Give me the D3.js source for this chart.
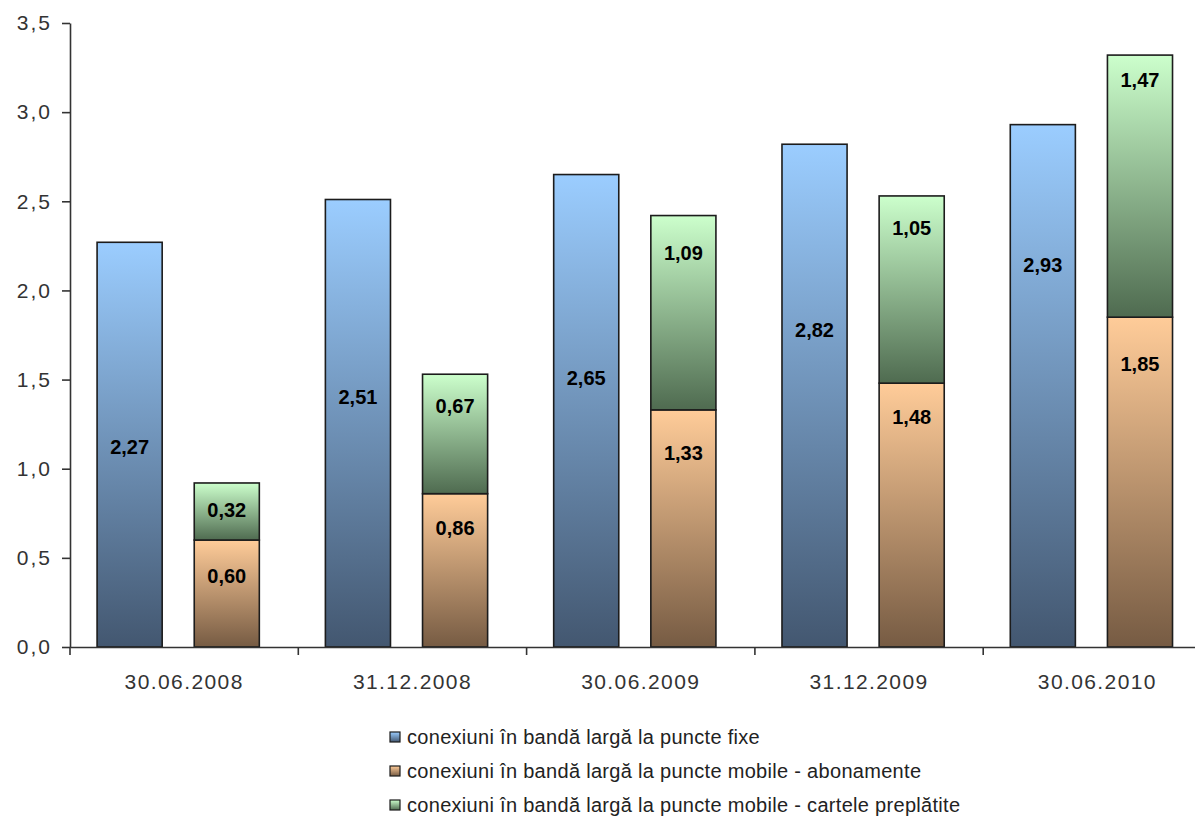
<!DOCTYPE html>
<html><head><meta charset="utf-8">
<script src="https://cdn.jsdelivr.net/npm/d3@7"></script>
<style>body{margin:0;background:#fff}svg{display:block}</style>
</head><body>
<svg id="chart" width="1195" height="820"></svg>
<script>
// ---- data ----
const categories = ["30.06.2008","31.12.2008","30.06.2009","31.12.2009","30.06.2010"];
const fixe = [2.27, 2.51, 2.65, 2.82, 2.93];
const mobileAbonamente = [0.60, 0.86, 1.33, 1.48, 1.85];
const mobileCartele = [0.32, 0.67, 1.09, 1.05, 1.47];
const seriesNames = [
  "conexiuni în bandă largă la puncte fixe",
  "conexiuni în bandă largă la puncte mobile - abonamente",
  "conexiuni în bandă largă la puncte mobile - cartele preplătite"
];
const yTicks = [0, 0.5, 1.0, 1.5, 2.0, 2.5, 3.0, 3.5];
const yTickLabels = ["0,0","0,5","1,0","1,5","2,0","2,5","3,0","3,5"];
// value-axis level at which each data label sits
const fixeLabelAt = [1.12, 1.40, 1.51, 1.78, 2.14];
const abonLabelAt = [0.40, 0.67, 1.09, 1.29, 1.59];
const carteleLabelAt = [0.77, 1.35, 2.21, 2.35, 3.18];

const fmt = v => d3.format(".2f")(v).replace(".", ",");

const svg = d3.select("#chart");
const gradients = [
  {id:"gBlue",   top:"#9bcdff", bottom:"#435770"},
  {id:"gOrange", top:"#ffcc99", bottom:"#765b43"},
  {id:"gGreen",  top:"#ccffcc", bottom:"#4f6b50"}
];
const defs = svg.append("defs");
gradients.forEach(g => {
  const lg = defs.append("linearGradient").attr("id", g.id)
    .attr("x1",0).attr("y1",0).attr("x2",0).attr("y2",1);
  lg.append("stop").attr("offset","0%").attr("stop-color", g.top);
  lg.append("stop").attr("offset","100%").attr("stop-color", g.bottom);
});

const left = 70, step = 228.3;
const x0 = d3.scaleBand().domain(categories).range([left, left + step * categories.length]);
const x1 = d3.scaleBand().domain(["fixe","mobile"]).range([0, x0.bandwidth()])
  .paddingInner(0.33).paddingOuter(0.34).align(0.41);
const y = d3.scaleLinear().domain([0, 3.5]).range([647, 23]);

const axisColor = "#333";
const font = "'Liberation Sans', Arial, sans-serif";

// bars
const stroke = "#1c1c1c", sw = 1.6;
const gBars = svg.append("g");
categories.forEach((c, i) => {
  const xb = x0(c) + x1("fixe"), xm = x0(c) + x1("mobile"), w = x1.bandwidth();
  gBars.append("rect").attr("x", xb).attr("y", y(fixe[i])).attr("width", w)
    .attr("height", y(0) - y(fixe[i])).attr("fill","url(#gBlue)").attr("stroke",stroke).attr("stroke-width",sw);
  gBars.append("rect").attr("x", xm).attr("y", y(mobileAbonamente[i])).attr("width", w)
    .attr("height", y(0) - y(mobileAbonamente[i])).attr("fill","url(#gOrange)").attr("stroke",stroke).attr("stroke-width",sw);
  const tot = mobileAbonamente[i] + mobileCartele[i];
  gBars.append("rect").attr("x", xm).attr("y", y(tot)).attr("width", w)
    .attr("height", y(mobileAbonamente[i]) - y(tot)).attr("fill","url(#gGreen)").attr("stroke",stroke).attr("stroke-width",sw);

  const lab = (xx, v, at) => gBars.append("text").attr("x", xx + w/2).attr("y", y(at))
    .attr("text-anchor","middle").attr("dominant-baseline","central")
    .attr("font-family", font).attr("font-weight","bold").attr("font-size", 20).attr("fill","#000")
    .text(fmt(v));
  lab(xb, fixe[i], fixeLabelAt[i]);
  lab(xm, mobileAbonamente[i], abonLabelAt[i]);
  lab(xm, mobileCartele[i], carteleLabelAt[i]);
});

// y axis
const yAxis = svg.append("g").attr("transform", `translate(${left},0)`)
  .call(d3.axisLeft(y).tickValues(yTicks).tickFormat((d,i) => yTickLabels[i]).tickSize(8).tickSizeOuter(0).tickPadding(10));
yAxis.select(".domain").attr("stroke", axisColor).attr("stroke-width",1.6);
yAxis.selectAll(".tick line").attr("stroke", axisColor).attr("stroke-width",1.6);
yAxis.selectAll("text").attr("font-family", font).attr("font-size", 21).attr("fill", "#333").attr("letter-spacing", 2);

// x axis
const xAxis = svg.append("g").attr("transform", `translate(0,${y(0)})`)
  .call(d3.axisBottom(x0).tickSize(0).tickSizeOuter(0).tickPadding(27));
xAxis.select(".domain").attr("stroke", axisColor).attr("stroke-width",1.6);
xAxis.selectAll("text").attr("font-family", font).attr("font-size", 21).attr("fill", "#333").attr("letter-spacing", 1.4);
xAxis.selectAll(".bound").data(categories.concat([null])).enter().append("line")
  .attr("x1", (d,i) => x0.range()[0] + i * x0.step()).attr("x2", (d,i) => x0.range()[0] + i * x0.step())
  .attr("y1", 0).attr("y2", 8).attr("stroke", axisColor).attr("stroke-width",1.6);

// legend
const legend = svg.append("g");
const legendY = [737, 771, 805];
seriesNames.forEach((n, i) => {
  legend.append("rect").attr("x", 390).attr("y", legendY[i] - 5).attr("width", 10).attr("height", 10)
    .attr("fill", `url(#${gradients[i].id})`).attr("stroke", "#1c1c1c").attr("stroke-width", 1.2);
  legend.append("text").attr("x", 407).attr("y", legendY[i]).attr("dominant-baseline","central")
    .attr("font-family", font).attr("font-size", 20).attr("fill", "#222").attr("letter-spacing", 0.3)
    .text(n);
});
</script>
</body></html>
